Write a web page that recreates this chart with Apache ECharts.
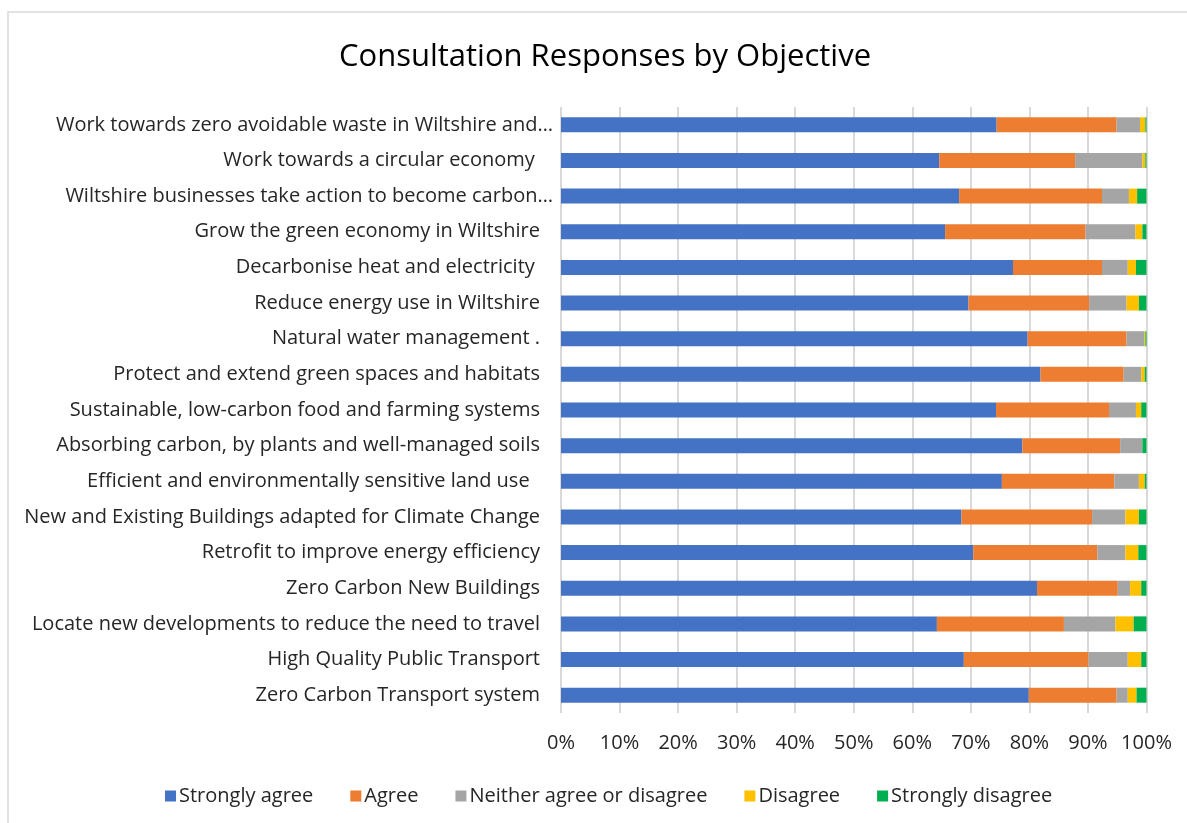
<!DOCTYPE html>
<html>
<head>
<meta charset="utf-8">
<title>Consultation Responses by Objective</title>
<script src="https://cdn.jsdelivr.net/npm/echarts@6/dist/echarts.min.js"></script>
<style>
  html, body { margin: 0; padding: 0; background: #ffffff; }
  #chart { width: 1187px; height: 823px; }
</style>
</head>
<body>
<div id="chart"></div>
<script>
// Objectives, listed top to bottom
const objectives = [
  'Work towards zero avoidable waste in Wiltshire and…',
  'Work towards a circular economy ',
  'Wiltshire businesses take action to become carbon…',
  'Grow the green economy in Wiltshire',
  'Decarbonise heat and electricity ',
  'Reduce energy use in Wiltshire',
  'Natural water management .',
  'Protect and extend green spaces and habitats',
  'Sustainable, low-carbon food and farming systems',
  'Absorbing carbon, by plants and well-managed soils',
  'Efficient and environmentally sensitive land use  ',
  'New and Existing Buildings adapted for Climate Change',
  'Retrofit to improve energy efficiency',
  'Zero Carbon New Buildings',
  'Locate new developments to reduce the need to travel',
  'High Quality Public Transport',
  'Zero Carbon Transport system'
];

// Share of responses (%) per objective, same order as above
const stronglyAgree = [74.4, 64.6, 68.0, 65.6, 77.2, 69.6, 79.7, 81.9, 74.3, 78.8, 75.3, 68.4, 70.4, 81.3, 64.2, 68.8, 79.9];
const agree         = [20.5, 23.2, 24.4, 24.0, 15.2, 20.6, 16.9, 14.2, 19.3, 16.7, 19.2, 22.3, 21.2, 13.8, 21.7, 21.3, 15.0];
const neither       = [ 4.0, 11.5,  4.6,  8.5,  4.4,  6.4,  3.0,  3.0,  4.6,  3.8,  4.2,  5.7,  4.8,  2.1,  8.8,  6.7,  1.9];
const disagree      = [ 0.9,  0.5,  1.4,  1.2,  1.4,  2.1,  0.2,  0.6,  0.9,  0.0,  1.0,  2.3,  2.2,  1.9,  3.1,  2.3,  1.5];
const stronglyDis   = [ 0.2,  0.2,  1.6,  0.7,  1.8,  1.3,  0.2,  0.3,  0.9,  0.7,  0.3,  1.3,  1.4,  0.9,  2.2,  0.9,  1.7];

const seriesNames = ['Strongly agree', 'Agree', 'Neither agree or disagree', 'Disagree', 'Strongly disagree'];
const seriesData = [stronglyAgree, agree, neither, disagree, stronglyDis];
const seriesColors = ['#4472C4', '#ED7D31', '#A5A5A5', '#FFC000', '#00B050'];

const xTicks = [0, 10, 20, 30, 40, 50, 60, 70, 80, 90, 100];

const FONT = '"Open Sans"';
const TEXT = '#262626';
const SIZE = 20;

const chart = echarts.init(document.getElementById('chart'), null, { renderer: 'canvas' });

chart.setOption({
  backgroundColor: '#ffffff',
  animation: false,
  textStyle: { fontFamily: FONT },
  graphic: [{
    type: 'rect',
    shape: { x: 8, y: 12, width: 1200, height: 840 },
    style: { fill: 'none', stroke: '#d9d9d9', lineWidth: 1.5 },
    silent: true
  }],
  title: {
    text: 'Consultation Responses by Objective',
    left: 600,
    textAlign: 'center',
    top: 37,
    textStyle: { fontFamily: FONT, fontSize: 31, fontWeight: 'normal', color: '#000000' }
  },
  legend: {
    data: seriesNames,
    left: 160,
    top: 781,
    icon: 'rect',
    itemWidth: 11,
    itemHeight: 11,
    itemGap: 37,
    textStyle: { fontFamily: FONT, fontSize: SIZE, color: TEXT, padding: [0, 0, 0, -2] }
  },
  grid: { left: 561, right: 40.5, top: 107, bottom: 110, containLabel: false },
  xAxis: {
    type: 'value',
    min: xTicks[0],
    max: xTicks[xTicks.length - 1],
    interval: xTicks[1] - xTicks[0],
    axisLine: { show: false },
    axisTick: { show: false },
    splitLine: { show: true, lineStyle: { color: '#d9d9d9', width: 2 } },
    axisLabel: {
      formatter: v => v + '%',
      fontFamily: FONT, fontSize: SIZE, color: TEXT, margin: 20
    }
  },
  yAxis: {
    type: 'category',
    inverse: true,
    data: objectives,
    axisLine: { show: false },
    axisTick: { show: false },
    axisLabel: {
      margin: 8,
      fontFamily: FONT, fontSize: SIZE, color: TEXT,
      formatter: v => v.endsWith('…') ? '{c|' + v + '}' : '{p|' + v + '}',
      rich: {
        c: { fontFamily: FONT, fontSize: SIZE, color: TEXT },
        p: { fontFamily: FONT, fontSize: SIZE, color: TEXT, padding: [0, 13, 0, 0] }
      }
    }
  },
  series: seriesData.map((d, i) => ({
    name: seriesNames[i],
    type: 'bar',
    stack: 'total',
    barWidth: 15,
    itemStyle: { color: seriesColors[i] },
    data: d
  }))
});
</script>
</body>
</html>
